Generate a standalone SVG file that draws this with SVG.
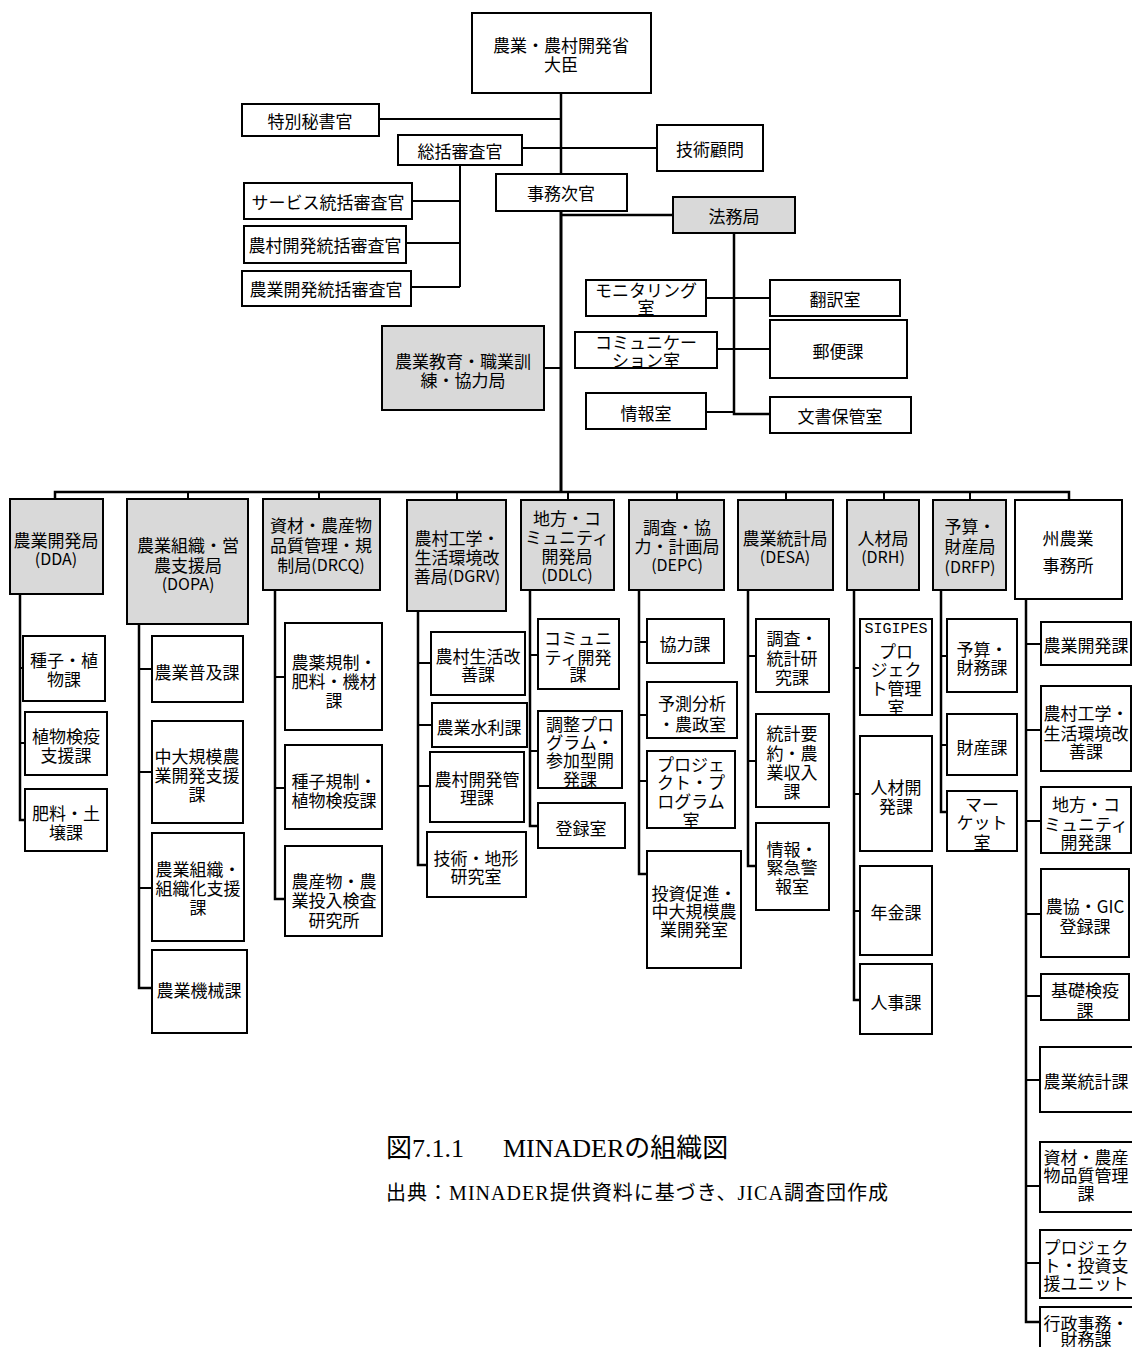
<svg xmlns="http://www.w3.org/2000/svg" width="1132" height="1347" viewBox="0 0 1132 1347">
<style>
.b{fill:#fff;stroke:#000;stroke-width:2}
.g{fill:#d9d9d9;stroke:#000;stroke-width:2}
.t{font-family:"Noto Sans CJK JP","Noto Sans",sans-serif;font-size:17px;text-anchor:middle;dominant-baseline:central;fill:#000}
.l{font-size:16px}
.c{fill:none;stroke:#000;stroke-width:2}
.c3{fill:none;stroke:#000;stroke-width:3}
.c25{fill:none;stroke:#000;stroke-width:2.5}
.cap{font-family:"Liberation Serif","Noto Sans CJK JP",serif;fill:#000}
</style>
<rect width="1132" height="1347" fill="#fff"/>
<g id="connectors">
<path class="c25" d="M561 93V174"/>
<path class="c3" d="M561 211V492"/>
<path class="c" d="M379 119H561"/>
<path class="c" d="M522 148H657"/>
<path class="c" d="M460 165V287M412 201H460M406 243H460M411 287H460"/>
<path class="c25" d="M561 215H673"/>
<path class="c25" d="M734 233V414H770"/>
<path class="c" d="M706 298H770M717 349H770M706 412H734"/>
<path class="c" d="M544 368H561"/>
<path class="c25" d="M55 499V492H1069V500"/>
<path class="c" d="M188 492V499M319 492V499M457 492V500M568 492V500M677 492V500M786 492V500M884 492V500M970 492V500"/>
<path class="c25" d="M20 594V820H25"/>
<path class="c" d="M20 668H23M20 743H25"/>
<path class="c25" d="M139 624V988H152"/>
<path class="c" d="M139 669H152M139 772H152M139 888H152"/>
<path class="c25" d="M275 590V899H285"/>
<path class="c" d="M275 677H285M275 788H285"/>
<path class="c25" d="M418 611V865H427"/>
<path class="c" d="M418 663H431M418 725H432M418 786H430"/>
<path class="c25" d="M530 590V826H538"/>
<path class="c" d="M530 655H538M530 751H538"/>
<path class="c25" d="M639 590V874H647"/>
<path class="c" d="M639 642H647M639 715H647M639 781H647"/>
<path class="c25" d="M748 590V866H756"/>
<path class="c" d="M748 656H756M748 761H756"/>
<path class="c25" d="M854 590V1000H860"/>
<path class="c" d="M854 668H860M854 794H860M854 911H860"/>
<path class="c25" d="M941 590V812H947"/>
<path class="c" d="M941 656H947M941 745H947"/>
<path class="c25" d="M1026 599V1322H1040"/>
<path class="c" d="M1026 644H1041M1026 730H1041M1026 821H1041M1026 914H1041M1026 996H1041M1026 1080H1040M1026 1186H1040M1026 1263H1040"/>
</g>

<g id="n-minister"><rect class="b" x="472" y="13" width="179" height="80"/><text class="t"><tspan x="561" y="44">農業・農村開発省</tspan><tspan x="561" y="63">大臣</tspan></text></g>
<g id="n-tokubetsu"><rect class="b" x="242" y="104" width="137" height="32"/><text class="t" x="310" y="120">特別秘書官</text></g>
<g id="n-soukatsu"><rect class="b" x="398" y="135" width="124" height="30"/><text class="t" x="460" y="150">総括審査官</text></g>
<g id="n-gijutsu"><rect class="b" x="657" y="125" width="106" height="46"/><text class="t" x="710" y="148">技術顧問</text></g>
<g id="n-service"><rect class="b" x="244" y="183" width="168" height="36"/><text class="t" x="328" y="201">サービス統括審査官</text></g>
<g id="n-noson-soukatsu"><rect class="b" x="244" y="226" width="162" height="37"/><text class="t" x="325" y="244">農村開発統括審査官</text></g>
<g id="n-nogyo-soukatsu"><rect class="b" x="242" y="271" width="169" height="35"/><text class="t" x="326" y="288">農業開発統括審査官</text></g>
<g id="n-jimujikan"><rect class="b" x="496" y="174" width="131" height="37"/><text class="t" x="561" y="192">事務次官</text></g>
<g id="n-houmu"><rect class="g" x="673" y="197" width="122" height="36"/><text class="t" x="734" y="215">法務局</text></g>
<g id="n-monitoring"><rect class="b" x="586" y="280" width="120" height="36"/><text class="t"><tspan x="646" y="289">モニタリング</tspan><tspan x="646" y="306">室</tspan></text></g>
<g id="n-honyaku"><rect class="b" x="770" y="280" width="130" height="36"/><text class="t" x="835" y="298">翻訳室</text></g>
<g id="n-comm"><rect class="b" x="575" y="332" width="142" height="36"/><text class="t"><tspan x="646" y="341">コミュニケー</tspan><tspan x="646" y="359">ション室</tspan></text></g>
<g id="n-yubin"><rect class="b" x="770" y="320" width="137" height="58"/><text class="t" x="838" y="350">郵便課</text></g>
<g id="n-joho"><rect class="b" x="586" y="393" width="120" height="36"/><text class="t" x="646" y="412">情報室</text></g>
<g id="n-bunsho"><rect class="b" x="770" y="397" width="141" height="36"/><text class="t" x="840" y="415">文書保管室</text></g>
<g id="n-kyoiku"><rect class="g" x="382" y="326" width="162" height="84"/><text class="t"><tspan x="463" y="360">農業教育・職業訓</tspan><tspan x="463" y="379">練・協力局</tspan></text></g>

<g id="n-dda"><rect class="g" x="10" y="499" width="93" height="95"/><text class="t"><tspan x="56" y="539">農業開発局</tspan><tspan x="56" y="558" class="l">(DDA)</tspan></text></g>
<g id="n-dopa"><rect class="g" x="127" y="499" width="121" height="125"/><text class="t"><tspan x="188" y="544">農業組織・営</tspan><tspan x="188" y="564">農支援局</tspan><tspan x="188" y="583" class="l">(DOPA)</tspan></text></g>
<g id="n-drcq"><rect class="g" x="263" y="499" width="117" height="91"/><text class="t"><tspan x="321" y="524">資材・農産物</tspan><tspan x="321" y="544">品質管理・規</tspan><tspan x="321" y="564">制局<tspan class="l">(DRCQ)</tspan></tspan></text></g>
<g id="n-dgrv"><rect class="g" x="407" y="500" width="99" height="111"/><text class="t"><tspan x="457" y="537">農村工学・</tspan><tspan x="457" y="556">生活環境改</tspan><tspan x="457" y="575">善局<tspan class="l">(DGRV)</tspan></tspan></text></g>
<g id="n-ddlc"><rect class="g" x="521" y="500" width="93" height="90"/><text class="t"><tspan x="567" y="517">地方・コ</tspan><tspan x="567" y="536">ミュニティ</tspan><tspan x="567" y="555">開発局</tspan><tspan x="567" y="574" class="l">(DDLC)</tspan></text></g>
<g id="n-depc"><rect class="g" x="629" y="500" width="95" height="90"/><text class="t"><tspan x="677" y="526">調査・協</tspan><tspan x="677" y="545">力・計画局</tspan><tspan x="677" y="564" class="l">(DEPC)</tspan></text></g>
<g id="n-desa"><rect class="g" x="738" y="500" width="95" height="90"/><text class="t"><tspan x="785" y="537">農業統計局</tspan><tspan x="785" y="556" class="l">(DESA)</tspan></text></g>
<g id="n-drh"><rect class="g" x="847" y="500" width="72" height="90"/><text class="t"><tspan x="883" y="537">人材局</tspan><tspan x="883" y="556" class="l">(DRH)</tspan></text></g>
<g id="n-drfp"><rect class="g" x="933" y="500" width="73" height="90"/><text class="t"><tspan x="970" y="525">予算・</tspan><tspan x="970" y="545">財産局</tspan><tspan x="970" y="566" class="l">(DRFP)</tspan></text></g>
<g id="n-shu"><rect class="b" x="1015" y="500" width="107" height="99"/><text class="t"><tspan x="1068" y="537">州農業</tspan><tspan x="1068" y="564">事務所</tspan></text></g>

<g id="n-dda-1"><rect class="b" x="23" y="636" width="82" height="65"/><text class="t"><tspan x="64" y="659">種子・植</tspan><tspan x="64" y="678">物課</tspan></text></g>
<g id="n-dda-2"><rect class="b" x="25" y="712" width="82" height="63"/><text class="t"><tspan x="66" y="735">植物検疫</tspan><tspan x="66" y="754">支援課</tspan></text></g>
<g id="n-dda-3"><rect class="b" x="25" y="789" width="82" height="62"/><text class="t"><tspan x="66" y="812">肥料・土</tspan><tspan x="66" y="831">壌課</tspan></text></g>

<g id="n-dopa-1"><rect class="b" x="152" y="636" width="91" height="66"/><text class="t" x="197" y="671">農業普及課</text></g>
<g id="n-dopa-2"><rect class="b" x="152" y="721" width="91" height="102"/><text class="t"><tspan x="197" y="755">中大規模農</tspan><tspan x="197" y="774">業開発支援</tspan><tspan x="197" y="793">課</tspan></text></g>
<g id="n-dopa-3"><rect class="b" x="152" y="833" width="92" height="108"/><text class="t"><tspan x="198" y="868">農業組織・</tspan><tspan x="198" y="887">組織化支援</tspan><tspan x="198" y="906">課</tspan></text></g>
<g id="n-dopa-4"><rect class="b" x="152" y="950" width="95" height="83"/><text class="t" x="199" y="989">農業機械課</text></g>

<g id="n-drcq-1"><rect class="b" x="285" y="623" width="97" height="107"/><text class="t"><tspan x="334" y="661">農薬規制・</tspan><tspan x="334" y="680">肥料・機材</tspan><tspan x="334" y="699">課</tspan></text></g>
<g id="n-drcq-2"><rect class="b" x="285" y="745" width="97" height="84"/><text class="t"><tspan x="334" y="780">種子規制・</tspan><tspan x="334" y="799">植物検疫課</tspan></text></g>
<g id="n-drcq-3"><rect class="b" x="285" y="846" width="97" height="90"/><text class="t"><tspan x="334" y="880">農産物・農</tspan><tspan x="334" y="899">業投入検査</tspan><tspan x="334" y="919">研究所</tspan></text></g>

<g id="n-dgrv-1"><rect class="b" x="431" y="632" width="94" height="63"/><text class="t"><tspan x="478" y="655">農村生活改</tspan><tspan x="478" y="673">善課</tspan></text></g>
<g id="n-dgrv-2"><rect class="b" x="432" y="703" width="95" height="44"/><text class="t" x="479" y="726">農業水利課</text></g>
<g id="n-dgrv-3"><rect class="b" x="430" y="752" width="94" height="70"/><text class="t"><tspan x="477" y="778">農村開発管</tspan><tspan x="477" y="796">理課</tspan></text></g>
<g id="n-dgrv-4"><rect class="b" x="427" y="832" width="99" height="65"/><text class="t"><tspan x="476" y="857">技術・地形</tspan><tspan x="476" y="875">研究室</tspan></text></g>

<g id="n-ddlc-1"><rect class="b" x="538" y="619" width="81" height="70"/><text class="t"><tspan x="578" y="637">コミュニ</tspan><tspan x="578" y="656">ティ開発</tspan><tspan x="578" y="673">課</tspan></text></g>
<g id="n-ddlc-2"><rect class="b" x="538" y="711" width="84" height="77"/><text class="t"><tspan x="580" y="723">調整プロ</tspan><tspan x="580" y="741">グラム・</tspan><tspan x="580" y="759">参加型開</tspan><tspan x="580" y="778">発課</tspan></text></g>
<g id="n-ddlc-3"><rect class="b" x="538" y="803" width="87" height="45"/><text class="t" x="581" y="827">登録室</text></g>

<g id="n-depc-1"><rect class="b" x="647" y="619" width="77" height="44"/><text class="t" x="685" y="643">協力課</text></g>
<g id="n-depc-2"><rect class="b" x="647" y="682" width="90" height="56"/><text class="t"><tspan x="692" y="702">予測分析</tspan><tspan x="692" y="723">・農政室</tspan></text></g>
<g id="n-depc-3"><rect class="b" x="647" y="751" width="88" height="77"/><text class="t"><tspan x="691" y="763">プロジェ</tspan><tspan x="691" y="781">クト・プ</tspan><tspan x="691" y="800">ログラム</tspan><tspan x="691" y="819">室</tspan></text></g>
<g id="n-depc-4"><rect class="b" x="647" y="851" width="94" height="117"/><text class="t"><tspan x="694" y="892">投資促進・</tspan><tspan x="694" y="910">中大規模農</tspan><tspan x="694" y="928">業開発室</tspan></text></g>

<g id="n-desa-1"><rect class="b" x="756" y="619" width="73" height="73"/><text class="t"><tspan x="792" y="637">調査・</tspan><tspan x="792" y="657">統計研</tspan><tspan x="792" y="676">究課</tspan></text></g>
<g id="n-desa-2"><rect class="b" x="756" y="714" width="73" height="93"/><text class="t"><tspan x="792" y="732">統計要</tspan><tspan x="792" y="752">約・農</tspan><tspan x="792" y="771">業収入</tspan><tspan x="792" y="790">課</tspan></text></g>
<g id="n-desa-3"><rect class="b" x="756" y="823" width="73" height="87"/><text class="t"><tspan x="792" y="848">情報・</tspan><tspan x="792" y="866">緊急警</tspan><tspan x="792" y="885">報室</tspan></text></g>

<g id="n-drh-1"><rect class="b" x="860" y="619" width="72" height="96"/><text class="t"><tspan x="896" y="629" style="font-family:'Liberation Mono',monospace;font-size:15px">SIGIPES</tspan><tspan x="896" y="650">プロ</tspan><tspan x="896" y="668">ジェク</tspan><tspan x="896" y="687">ト管理</tspan><tspan x="896" y="706">室</tspan></text></g>
<g id="n-drh-2"><rect class="b" x="860" y="736" width="72" height="115"/><text class="t"><tspan x="896" y="786">人材開</tspan><tspan x="896" y="805">発課</tspan></text></g>
<g id="n-drh-3"><rect class="b" x="860" y="866" width="72" height="89"/><text class="t" x="896" y="911">年金課</text></g>
<g id="n-drh-4"><rect class="b" x="860" y="964" width="72" height="70"/><text class="t" x="896" y="1001">人事課</text></g>

<g id="n-drfp-1"><rect class="b" x="947" y="619" width="70" height="73"/><text class="t"><tspan x="982" y="648">予算・</tspan><tspan x="982" y="666">財務課</tspan></text></g>
<g id="n-drfp-2"><rect class="b" x="947" y="714" width="70" height="61"/><text class="t" x="982" y="746">財産課</text></g>
<g id="n-drfp-3"><rect class="b" x="947" y="791" width="70" height="60"/><text class="t"><tspan x="982" y="803">マー</tspan><tspan x="982" y="821">ケット</tspan><tspan x="982" y="841">室</tspan></text></g>

<g id="n-shu-1"><rect class="b" x="1041" y="622" width="90" height="43"/><text class="t" x="1086" y="644">農業開発課</text></g>
<g id="n-shu-2"><rect class="b" x="1041" y="686" width="90" height="85"/><text class="t"><tspan x="1086" y="712">農村工学・</tspan><tspan x="1086" y="732">生活環境改</tspan><tspan x="1086" y="750">善課</tspan></text></g>
<g id="n-shu-3"><rect class="b" x="1041" y="787" width="90" height="66"/><text class="t"><tspan x="1086" y="803">地方・コ</tspan><tspan x="1086" y="823">ミュニティ</tspan><tspan x="1086" y="841">開発課</tspan></text></g>
<g id="n-shu-4"><rect class="b" x="1041" y="869" width="88" height="88"/><text class="t"><tspan x="1085" y="905">農協・GIC</tspan><tspan x="1085" y="925">登録課</tspan></text></g>
<g id="n-shu-5"><rect class="b" x="1041" y="974" width="88" height="46"/><text class="t"><tspan x="1085" y="989">基礎検疫</tspan><tspan x="1085" y="1009">課</tspan></text></g>
<g id="n-shu-6"><rect class="b" x="1040" y="1047" width="100" height="65"/><text class="t" x="1086" y="1080">農業統計課</text></g>
<g id="n-shu-7"><rect class="b" x="1040" y="1142" width="100" height="70"/><text class="t"><tspan x="1086" y="1156">資材・農産</tspan><tspan x="1086" y="1174">物品質管理</tspan><tspan x="1086" y="1192">課</tspan></text></g>
<g id="n-shu-8"><rect class="b" x="1040" y="1230" width="100" height="68"/><text class="t"><tspan x="1086" y="1246">プロジェク</tspan><tspan x="1086" y="1264">ト・投資支</tspan><tspan x="1086" y="1282">援ユニット</tspan></text></g>
<g id="n-shu-9"><rect class="b" x="1040" y="1307" width="100" height="50"/><text class="t"><tspan x="1086" y="1322">行政事務・</tspan><tspan x="1086" y="1338">財務課</tspan></text></g>

<g id="caption">
<text class="cap" y="1157" style="font-size:26px"><tspan x="386">図7.1.1　</tspan><tspan x="503">MINADERの組織図</tspan></text>
<text class="cap" x="386" y="1200" style="font-size:20px" textLength="502" lengthAdjust="spacing">出典：MINADER提供資料に基づき、JICA調査団作成</text>
</g>
</svg>
